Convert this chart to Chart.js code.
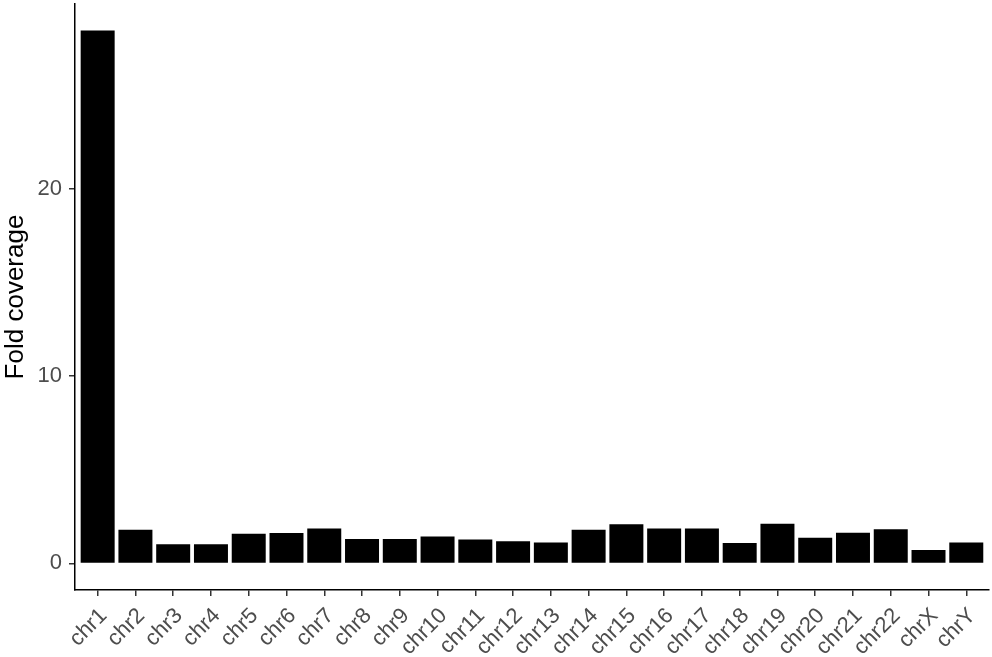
<!DOCTYPE html>
<html>
<head>
<meta charset="utf-8">
<script src="https://cdn.jsdelivr.net/npm/chart.js@4"></script>
<style>
  html, body { margin: 0; padding: 0; background: #fff; }
  #wrap { width: 992px; height: 657px; }
</style>
</head>
<body>
<div id="wrap"><canvas id="chartBar"></canvas></div>
<script>
// Datos del grafico
const cromosomas = ["chr1","chr2","chr3","chr4","chr5","chr6","chr7","chr8","chr9","chr10","chr11","chr12",
  "chr13","chr14","chr15","chr16","chr17","chr18","chr19","chr20","chr21","chr22","chrX","chrY"];
const cobertura = [28.45, 1.80, 1.02, 1.02, 1.59, 1.62, 1.87, 1.30, 1.30, 1.44, 1.28, 1.18,
  1.12, 1.80, 2.09, 1.87, 1.87, 1.09, 2.12, 1.37, 1.64, 1.83, 0.71, 1.11];
const ticksY = [0, 10, 20];

const puntos = cobertura.map((v, i) => ({ x: i, y: v }));

const fuente = "'Liberation Sans', Arial, Helvetica, sans-serif";

const configBar = {
  type: "bar",
  data: {
    datasets: [{
      data: puntos,
      backgroundColor: "#000",
      borderWidth: 0,
      categoryPercentage: 1,
      barPercentage: 0.9,
    }],
  },
  options: {
    responsive: true,
    maintainAspectRatio: false,
    animation: false,
    layout: { padding: { left: 0, right: 2, top: 4, bottom: 0 } },
    plugins: { legend: { display: false }, tooltip: { enabled: false } },
    scales: {
      x: {
        type: "linear",
        offset: false,
        min: -0.6,
        max: cromosomas.length - 1 + 0.6,
        afterBuildTicks: (scale) => { scale.ticks = cromosomas.map((c, i) => ({ value: i })); },
        afterFit: (scale) => { scale.height = 67; },
        ticks: {
          autoSkip: false,
          maxRotation: 45,
          minRotation: 45,
          color: "#4d4d4d",
          font: { family: fuente, size: 22 },
          padding: 7,
          labelOffset: 6,
          callback: (v) => cromosomas[v],
        },
        grid: { display: true, offset: false, drawOnChartArea: false, drawTicks: true, tickLength: 6, color: "#333", lineWidth: 1.5 },
        border: { display: true, color: "#000", width: 1.5 },
      },
      y: {
        min: -1.42,
        max: 29.87,
        afterBuildTicks: (scale) => { scale.ticks = ticksY.map(v => ({ value: v })); },
        afterFit: (scale) => {
          scale.width = 75;
          scale.paddingTop = 0;
          scale.paddingBottom = 0;
        },
        ticks: {
          color: "#4d4d4d",
          font: { family: fuente, size: 22 },
          padding: 7,
        },
        title: {
          display: true,
          text: "Fold coverage",
          color: "#000",
          font: { family: fuente, size: 26 },
          padding: { top: 0, bottom: 2 },
        },
        grid: { display: true, drawOnChartArea: false, drawTicks: true, tickLength: 6, color: "#333", lineWidth: 1.5 },
        border: { display: true, color: "#000", width: 1.5 },
      },
    },
  },
};

var chartBar = new Chart(document.getElementById("chartBar"), configBar);
</script>
</body>
</html>
